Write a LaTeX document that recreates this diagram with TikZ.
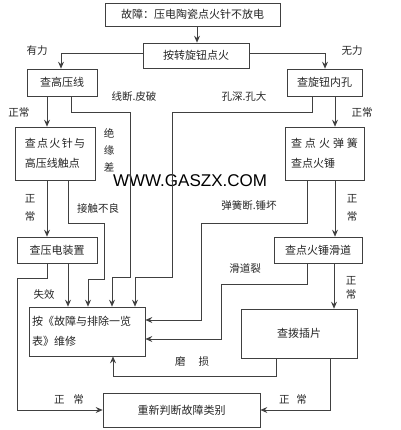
\documentclass[tikz,border=0pt]{standalone}
\usepackage{fontspec}
\setmainfont{Noto Sans CJK SC}
\newfontfamily\wmfont{Liberation Sans}
\usetikzlibrary{arrows.meta}
\begin{document}
\begin{tikzpicture}[x=1pt,y=-1pt,
  box/.style={draw=black!75, line width=0.7pt, inner sep=0pt, text=black!85, font=\fontsize{11}{13}\selectfont},
  conn/.style={draw=black!75, line width=0.7pt},
  arr/.style={conn, -{Stealth[length=7pt,width=6pt,inset=2.5pt]}},
  lbl/.style={font=\fontsize{10.5}{12}\selectfont, inner sep=0pt, text=black!85},
  vlbl/.style={lbl, align=center},
]
\fill[white] (0,0) rectangle (400,430);
\useasboundingbox (0,0) rectangle (400,430);

% boxes
\node[box, minimum width=175pt, minimum height=23pt] (top) at (192.5,14.5) {故障：压电陶瓷点火针不放电};
\node[box, minimum width=106pt, minimum height=25pt] (ign) at (196,55.5) {按转旋钮点火};
\node[box, minimum width=70pt, minimum height=27pt] (gy) at (62,82.5) {查高压线};
\node[box, minimum width=75pt, minimum height=27pt] (kn) at (324.5,82.5) {查旋钮内孔};
\node[box, minimum width=80pt, minimum height=53pt, align=left, font=\fontsize{11}{20}\selectfont] (zh) at (55,153.5)
  {查\hspace{1.3pt}点\hspace{1.3pt}火\hspace{1.3pt}针\hspace{1.3pt}与\\高压线触点};
\node[box, minimum width=79pt, minimum height=53pt, align=left, font=\fontsize{11}{20}\selectfont] (th) at (324.5,153.5)
  {查\hspace{3pt}点\hspace{3pt}火\hspace{3pt}弹\hspace{3pt}簧\\查点火锤};
\node[box, minimum width=80pt, minimum height=26pt] (yd) at (57,250) {查压电装置};
\node[box, minimum width=88pt, minimum height=26pt] (hd) at (318,250) {查点火锤滑道};
\node[box, minimum width=116pt, minimum height=49pt, align=left, font=\fontsize{11}{20}\selectfont] (fix) at (87,331.5)
  {按《故障与排除一览\\表》维修\hphantom{按《故障与排}};
\node[box, minimum width=116pt, minimum height=49pt] (cp) at (299,333.5) {查拨插片};
\node[box, minimum width=157pt, minimum height=34pt] (re) at (181.5,410) {重新判断故障类别};

% labels
\node[lbl] (l1) at (37,51) {有力};
\node[lbl] (l2) at (352,51) {无力};
\node[lbl] (l3) at (19,113) {正常};
\node[lbl] (l4) at (134,97) {线断.皮破};
\node[lbl] (l5) at (244,97) {孔深.孔大};
\node[lbl] (l6) at (362,113) {正常};
\node[vlbl, font=\fontsize{10.5}{17}\selectfont] (l7) at (109,150) {绝\\缘\\差};
\node[vlbl, font=\fontsize{10.5}{18}\selectfont] (l8) at (30,208) {正\\常};
\node[lbl] (l9) at (98,208) {接触不良};
\node[vlbl, font=\fontsize{10.5}{18}\selectfont] (l10) at (352,208) {正\\常};
\node[lbl] (l11) at (249,205) {弹簧断.锤坏};
\node[lbl] (l12) at (44,295) {失效};
\node[lbl] (l13) at (245,268) {滑道裂};
\node[vlbl, font=\fontsize{10.5}{14}\selectfont] (l14) at (351,288) {正\\常};
\node[lbl] (l15) at (192,362) {磨\hspace{13pt}损};
\node[lbl] (l16) at (69,400) {正\hspace{9pt}常};
\node[lbl] (l17) at (293,400) {正\hspace{7pt}常};

% watermark
\node[font=\wmfont\fontsize{17}{20}\selectfont, inner sep=0pt] (wm) at (190,181) {WWW.GASZX.COM};

% connectors
\draw[arr] (top.south -| 197,0) -- (ign.north -| 197,0);
\draw[arr] (ign.west |- 0,53) -| (gy.north -| 61,0);
\draw[arr] (ign.east |- 0,53) -| (kn.north -| 325,0);
\draw[arr] (gy.south -| 47,0) -- (zh.north -| 47,0);
\draw[arr] (gy.south -| 71,0) |- (130,112) |- (112,277) -- (fix.north -| 112,0);
\draw[arr] (kn.south -| 312,0) |- (172,112) |- (135,277) -- (fix.north -| 135,0);
\draw[arr] (kn.south -| 335,0) -- (th.north -| 335,0);
\draw[arr] (zh.south -| 47,0) -- (yd.north -| 47,0);
\draw[arr] (zh.south -| 68,0) |- (104,223) |- (88,279) -- (fix.north -| 88,0);
\draw[arr] (th.south -| 335,0) -- (hd.north -| 335,0);
\draw[arr] (th.south -| 307,0) |- (201,223) |- (fix.east |- 0,320);
\draw[arr] (yd.south -| 68,0) -- (fix.north -| 68,0);
\draw[arr] (yd.south -| 47,0) |- (17,278) |- (re.west);
\draw[arr] (hd.south -| 334,0) -- (cp.north -| 334,0);
\draw[arr] (hd.south -| 307,0) |- (221,284) |- (fix.east |- 0,339);
\draw[arr] (cp.south -| 276,0) |- (113,376) -- (fix.south -| 113,0);
\draw[arr] (cp.south -| 330,0) |- (re.east);
\end{tikzpicture}
\end{document}
